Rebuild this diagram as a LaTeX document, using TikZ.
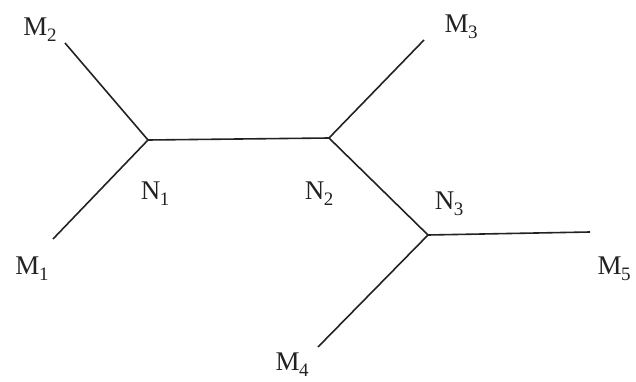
\documentclass[tikz,border=0pt]{standalone}
\usepackage{fontspec}
\setmainfont{Liberation Serif}
\usepackage{tikz}
\usetikzlibrary{positioning}
\definecolor{ink}{HTML}{222222}
\tikzset{
  branch/.style={draw=ink,line width=1.6pt},
  lbl/.style={inner sep=0pt,text=ink,font=\fontsize{27}{30}\selectfont}
}
\newcommand{\taxon}[2]{#1\kern-0.5pt\raisebox{-6pt}{\fontsize{19}{22}\selectfont #2}}

\begin{document}
\begin{tikzpicture}[x=1pt,y=1pt]
 \useasboundingbox (0,0) rectangle (636,381);
 % inner vertices and leaf ends
 \coordinate (n1) at (148,241);
 \coordinate (n2) at (329,243);
 \coordinate (n3) at (428,146);
 \coordinate (m1) at (53,142);
 \coordinate (m2) at (65,338);
 \coordinate (m3) at (424,341);
 \coordinate (m4) at (318,34);
 \coordinate (m5) at (590,149);
 \draw[branch] (m2)--(n1); \draw[branch] (m1)--(n1);
 \draw[branch] (n1)--(n2); \draw[branch] (n2)--(m3);
 \draw[branch] (n2)--(n3); \draw[branch] (n3)--(m4);
 \draw[branch] (n3)--(m5);
 % labels
 \node[lbl] (lm1) at (32,112) {\taxon{M}{1}};
 \node[lbl] (lm2) at (40,351) {\taxon{M}{2}};
 \node[lbl] (lm3) at (461,354) {\taxon{M}{3}};
 \node[lbl] (lm4) at (292,16) {\taxon{M}{4}};
 \node[lbl] (lm5) at (614,112) {\taxon{M}{5}};
 \node[lbl] (ln1) at (155,187) {\taxon{N}{1}};
 \node[lbl] (ln2) at (319,187) {\taxon{N}{2}};
 \node[lbl] (ln3) at (449,177) {\taxon{N}{3}};
\end{tikzpicture}
\end{document}
